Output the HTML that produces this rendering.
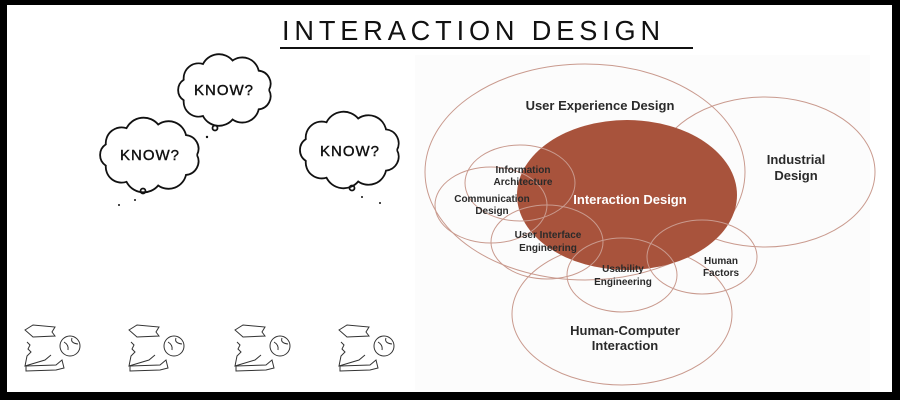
<!DOCTYPE html>
<html><head><meta charset="utf-8"><style>
html,body{margin:0;padding:0;background:#000;}
#c{position:relative;width:900px;height:400px;overflow:hidden;background:#000;}
svg{position:absolute;left:0;top:0;}
</style></head><body><div id="c">
<svg id="s" width="900" height="400" viewBox="0 0 900 400" font-family="Liberation Sans, sans-serif">
<rect x="7" y="5" width="885" height="387" fill="#fff"/>
<rect x="415" y="55" width="455" height="335" fill="#fcfcfc"/>
<text x="282" y="40" font-size="28" letter-spacing="5" fill="#111" font-family="Liberation Sans, sans-serif" textLength="383" lengthAdjust="spacingAndGlyphs">INTERACTION  DESIGN</text>
<line x1="280" y1="48" x2="693" y2="48" stroke="#111" stroke-width="2"/>
<g id="clouds" fill="none" stroke="#111" stroke-width="1.8"></g>
<g font-size="15" fill="#111" text-anchor="middle" letter-spacing="1" stroke="#111" stroke-width="0.4">
<text x="224" y="95">KNOW?</text>
<text x="150" y="160">KNOW?</text>
<text x="350" y="156">KNOW?</text>
</g>
<g fill="none" stroke="#c99a8e" stroke-width="1">
<ellipse cx="585" cy="172" rx="160" ry="108"/>
<ellipse cx="765" cy="172" rx="110" ry="75"/>
<ellipse cx="622" cy="314" rx="110" ry="71"/>
</g>
<ellipse cx="627" cy="195" rx="110" ry="75" fill="#a8533c"/>
<g fill="none" stroke="#c99a8e" stroke-width="1">
<ellipse cx="520" cy="183" rx="55" ry="38"/>
<ellipse cx="491" cy="205" rx="56" ry="38"/>
<ellipse cx="547" cy="242" rx="56" ry="37"/>
<ellipse cx="622" cy="275" rx="55" ry="37"/>
<ellipse cx="702" cy="257" rx="55" ry="37"/>
</g>
<g font-weight="bold" fill="#2a2a2a" text-anchor="middle">
<text x="600" y="110" font-size="13">User Experience Design</text>
<text x="796" y="164" font-size="13">Industrial</text>
<text x="796" y="180" font-size="13">Design</text>
<text x="630" y="204" font-size="13" fill="#fff">Interaction Design</text>
<text x="625" y="335" font-size="13">Human-Computer</text>
<text x="625" y="350" font-size="13">Interaction</text>
<g font-size="10">
<text x="523" y="173">Information</text>
<text x="523" y="185">Architecture</text>
<text x="492" y="202">Communication</text>
<text x="492" y="214">Design</text>
<text x="548" y="238">User Interface</text>
<text x="548" y="251">Engineering</text>
<text x="623" y="272">Usability</text>
<text x="623" y="285">Engineering</text>
<text x="721" y="264">Human</text>
<text x="721" y="276">Factors</text>
</g></g>
<g id="figs" fill="none" stroke="#333" stroke-width="1"></g>
</svg>
<script>
function cloud(cx,cy,rx,ry,n){
 let d='';const pts=[];
 for(let i=0;i<=n;i++){const a=i/n*2*Math.PI;pts.push([cx+rx*Math.cos(a),cy+ry*Math.sin(a)]);}
 d='M'+pts[0][0].toFixed(1)+' '+pts[0][1].toFixed(1);
 for(let i=1;i<=n;i++){const p=pts[i-1],q=pts[i];const r=Math.hypot(q[0]-p[0],q[1]-p[1])*0.6;
  d+=` A${r.toFixed(1)} ${r.toFixed(1)} 0 0 1 ${q[0].toFixed(1)} ${q[1].toFixed(1)}`;}
 return `<path d="${d}"/>`;
}
let h='';
h+=cloud(225,90,44,30,9)+cloud(150,155,47,31,9)+cloud(350,150,47,32,9);
h+='<circle cx="215" cy="128" r="2.5"/><circle cx="143" cy="191" r="2.5"/><circle cx="352" cy="188" r="2.5"/>';
h+='<g fill="#111" stroke="none"><circle cx="207" cy="137" r="1.2"/><circle cx="135" cy="200" r="1"/><circle cx="119" cy="205" r="1"/><circle cx="362" cy="197" r="1"/><circle cx="380" cy="203" r="1"/></g>';
document.getElementById('clouds').innerHTML=h;
let f='';
[22,126,232,336].forEach(x=>{
 f+=`<path d="M${x+3} ${330} l8 -5 l22 2 l-3 5 l3 4 l-22 1 z"/>`;
 f+=`<path d="M${x+5} ${342} l3 3 l-2 4 l3 3 l-4 4 l-2 10 l20 -6 l6 -5"/>`;
 f+=`<circle cx="${x+48}" cy="${346}" r="10"/><path d="M${x+42} ${342} q5 3 4 8 M${x+50} ${338} q-2 5 6 6"/>`;
 f+=`<path d="M${x+4} ${366} l30 -1 l6 -5 l2 8 l-8 2 l-30 1 z"/>`;
});
document.getElementById('figs').innerHTML=f;
</script>
</div></body></html>
